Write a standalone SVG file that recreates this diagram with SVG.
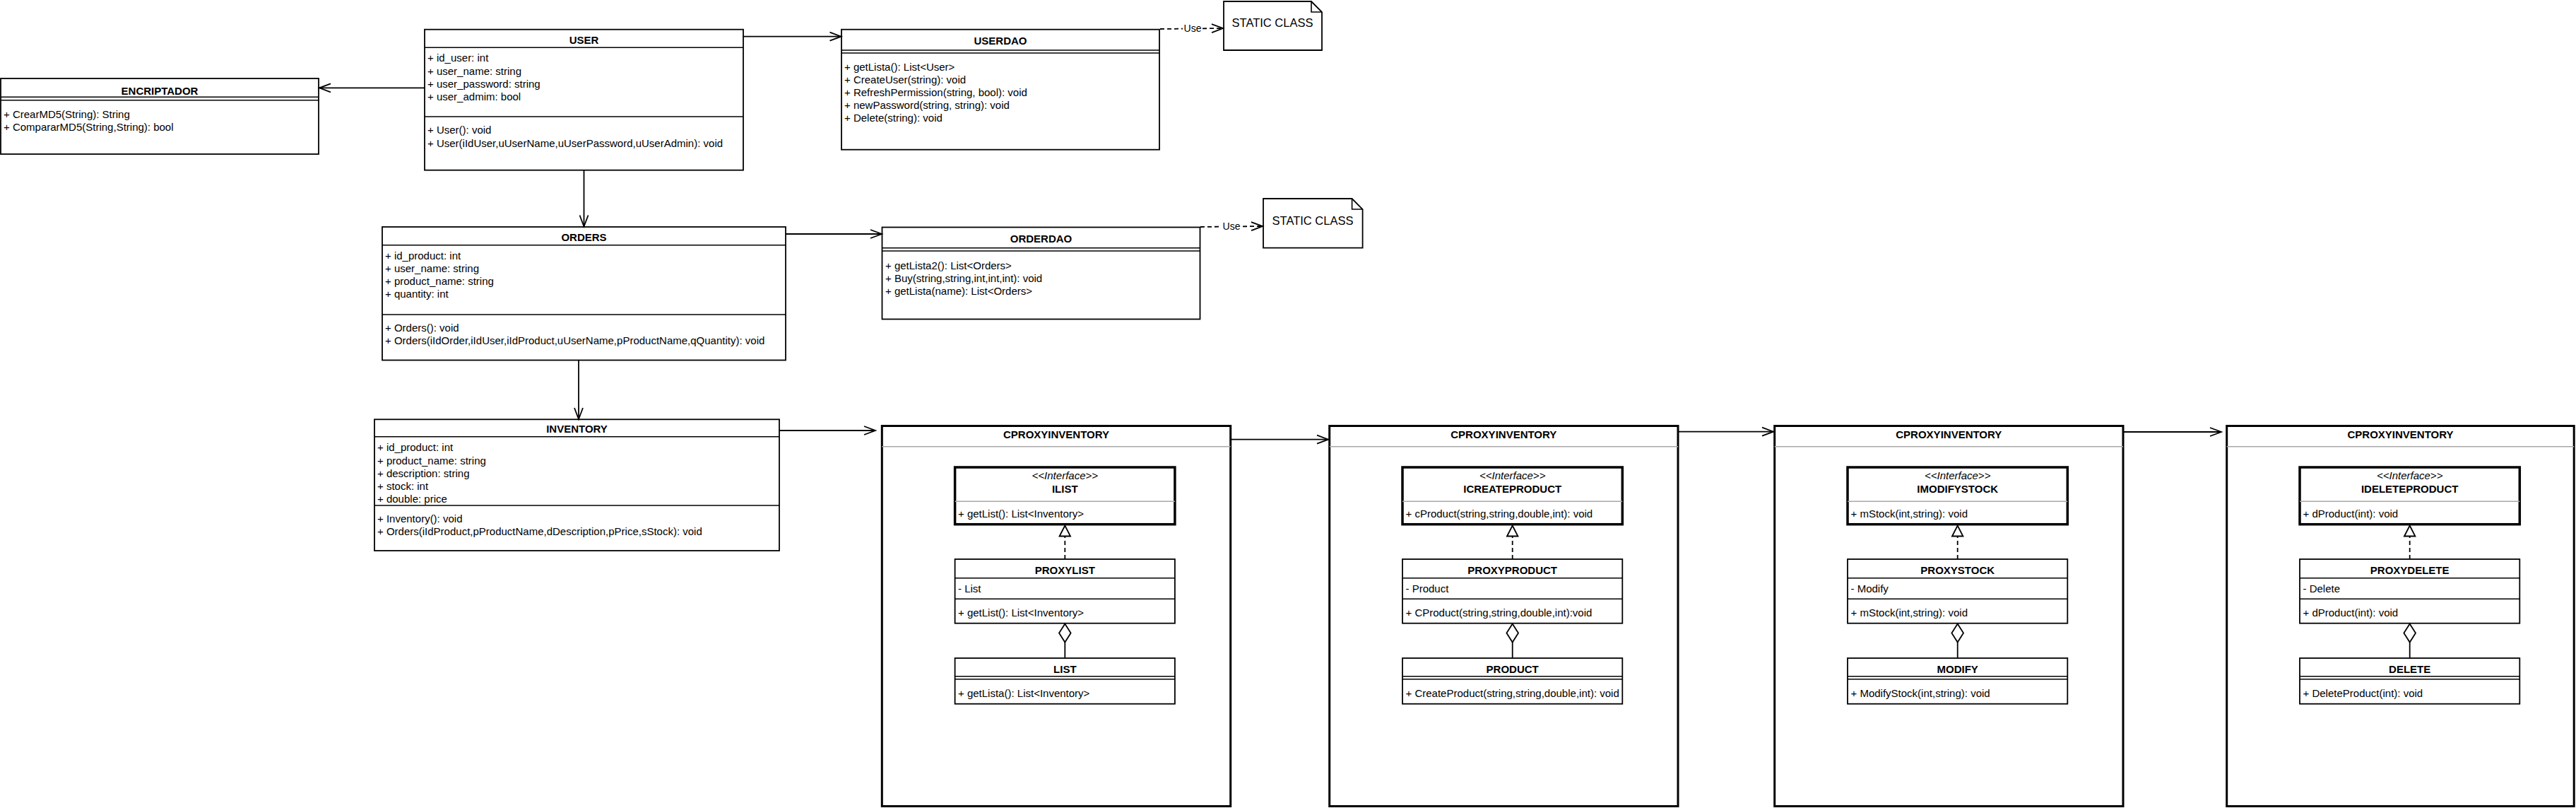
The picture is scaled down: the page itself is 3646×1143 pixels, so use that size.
<svg xmlns="http://www.w3.org/2000/svg" width="3646" height="1143" viewBox="0 0 3646 1143">
<style>
.bg{fill:#fff}
.box{fill:#fff;stroke:#000;stroke-width:1.8}
.ibox{fill:#fff;stroke:#000;stroke-width:3.5}
.cont{fill:#fff;stroke:#000;stroke-width:3}
.ln{stroke:#000;stroke-width:1.6;fill:none}
.gl{stroke:#a8a8a8;stroke-width:1.5;fill:none}
.t{font-family:"Liberation Sans",Arial,Helvetica,sans-serif;font-size:15px;fill:#000}
.b{font-weight:bold;text-anchor:middle}
.i{font-style:italic;text-anchor:middle}
.n{font-size:16.5px;text-anchor:middle}
.lbl{font-size:14px;text-anchor:middle}
.c{stroke:#000;stroke-width:1.8;fill:none}
.d{stroke-dasharray:6 4}
.lb{fill:#fff}
</style>
<defs>
<marker id="open" markerUnits="userSpaceOnUse" markerWidth="20" markerHeight="16" refX="16" refY="6.5" orient="auto" overflow="visible">
<path d="M0,0.5 L16,6.5 L0,12.5" fill="none" stroke="#000" stroke-width="1.8"/>
</marker>
<marker id="tri" markerUnits="userSpaceOnUse" markerWidth="18" markerHeight="18" refX="15" refY="7.7" orient="auto" overflow="visible">
<path d="M0,0 L15,7.7 L0,15.4 Z" fill="#fff" stroke="#000" stroke-width="1.8"/>
</marker>
<marker id="dia" markerUnits="userSpaceOnUse" markerWidth="28" markerHeight="18" refX="0" refY="8.3" orient="auto" overflow="visible">
<path d="M0,8.3 L13,0 L26,8.3 L13,16.6 Z" fill="#fff" stroke="#000" stroke-width="1.8"/>
</marker>
</defs>
<rect class="bg" x="0" y="0" width="3646" height="1143"/>

<g id="encriptador">
<rect class="box" x="1" y="111" width="450" height="107"/>
<line class="ln" x1="1" y1="137.3" x2="451" y2="137.3"/>
<line class="ln" x1="1" y1="141.7" x2="451" y2="141.7"/>
<text class="t b" x="226" y="133.5">ENCRIPTADOR</text>
<text class="t" x="5" y="166.7">+ CrearMD5(String): String</text>
<text class="t" x="5" y="184.5">+ CompararMD5(String,String): bool</text>
</g>

<g id="user">
<rect class="box" x="601" y="41.7" width="451" height="199"/>
<line class="ln" x1="601" y1="67.3" x2="1052" y2="67.3"/>
<line class="ln" x1="601" y1="165" x2="1052" y2="165"/>
<text class="t b" x="826.5" y="62">USER</text>
<text class="t" x="605" y="87.3">+ id_user: int</text>
<text class="t" x="605" y="105.7">+ user_name: string</text>
<text class="t" x="605" y="124">+ user_password: string</text>
<text class="t" x="605" y="142.3">+ user_admim: bool</text>
<text class="t" x="605" y="189.3">+ User(): void</text>
<text class="t" x="605" y="207.7">+ User(iIdUser,uUserName,uUserPassword,uUserAdmin): void</text>
</g>

<g id="userdao">
<rect class="box" x="1191" y="41.7" width="450" height="170"/>
<line class="ln" x1="1191" y1="71" x2="1641" y2="71"/>
<line class="ln" x1="1191" y1="75" x2="1641" y2="75"/>
<text class="t b" x="1416" y="62.5">USERDAO</text>
<text class="t" x="1195" y="99.5">+ getLista(): List&lt;User&gt;</text>
<text class="t" x="1195" y="117.5">+ CreateUser(string): void</text>
<text class="t" x="1195" y="135.5">+ RefreshPermission(string, bool): void</text>
<text class="t" x="1195" y="153.5">+ newPassword(string, string): void</text>
<text class="t" x="1195" y="171.5">+ Delete(string): void</text>
</g>

<g id="static1">
<path class="box" d="M1732,2 H1856 L1871,17 V71 H1732 Z"/>
<path class="ln" d="M1856,2 V17 H1871"/>
<text class="t n" x="1801" y="37.5">STATIC CLASS</text>
</g>

<g id="orders">
<rect class="box" x="541" y="321" width="571" height="188.5"/>
<line class="ln" x1="541" y1="346.7" x2="1112" y2="346.7"/>
<line class="ln" x1="541" y1="445" x2="1112" y2="445"/>
<text class="t b" x="826.5" y="340.5">ORDERS</text>
<text class="t" x="545" y="366.5">+ id_product: int</text>
<text class="t" x="545" y="384.8">+ user_name: string</text>
<text class="t" x="545" y="403.1">+ product_name: string</text>
<text class="t" x="545" y="421.4">+ quantity: int</text>
<text class="t" x="545" y="468.8">+ Orders(): void</text>
<text class="t" x="545" y="487.2">+ Orders(iIdOrder,iIdUser,iIdProduct,uUserName,pProductName,qQuantity): void</text>
</g>

<g id="orderdao">
<rect class="box" x="1248.5" y="321.5" width="450" height="130"/>
<line class="ln" x1="1248.5" y1="350.7" x2="1698.5" y2="350.7"/>
<line class="ln" x1="1248.5" y1="355" x2="1698.5" y2="355"/>
<text class="t b" x="1473.5" y="342.5">ORDERDAO</text>
<text class="t" x="1253" y="380.8">+ getLista2(): List&lt;Orders&gt;</text>
<text class="t" x="1253" y="398.8">+ Buy(string,string,int,int,int): void</text>
<text class="t" x="1253" y="416.8">+ getLista(name): List&lt;Orders&gt;</text>
</g>

<g id="static2">
<path class="box" d="M1788,281 H1913.6 L1928.6,296 V350.7 H1788 Z"/>
<path class="ln" d="M1913.6,281 V296 H1928.6"/>
<text class="t n" x="1858" y="317.5">STATIC CLASS</text>
</g>

<g id="inventory">
<rect class="box" x="530" y="593.3" width="573" height="185.7"/>
<line class="ln" x1="530" y1="617.7" x2="1103" y2="617.7"/>
<line class="ln" x1="530" y1="715" x2="1103" y2="715"/>
<text class="t b" x="816.5" y="612">INVENTORY</text>
<text class="t" x="534" y="638.3">+ id_product: int</text>
<text class="t" x="534" y="656.5">+ product_name: string</text>
<text class="t" x="534" y="674.5">+ description: string</text>
<text class="t" x="534" y="692.5">+ stock: int</text>
<text class="t" x="534" y="710.5">+ double: price</text>
<text class="t" x="534" y="739">+ Inventory(): void</text>
<text class="t" x="534" y="757.3">+ Orders(iIdProduct,pProductName,dDescription,pPrice,sStock): void</text>
</g>

<!-- Proxy container 1 -->
<g id="cproxy1">
<rect class="cont" x="1248.3" y="602.5" width="493.4" height="538"/>
<line class="gl" x1="1248.3" y1="631.7" x2="1741.7" y2="631.7"/>
<text class="t b" x="1495" y="619.5">CPROXYINVENTORY</text>
</g>
<g id="ilist">
<rect class="ibox" x="1351.6" y="661" width="311.3" height="80.7"/>
<line class="gl" x1="1351.6" y1="709.3" x2="1662.9" y2="709.3"/>
<text class="t i" x="1507.3" y="678">&lt;&lt;Interface&gt;&gt;</text>
<text class="t b" x="1507.3" y="696.5">ILIST</text>
<text class="t" x="1356" y="731.7">+ getList(): List&lt;Inventory&gt;</text>
</g>
<g id="proxylist">
<rect class="box" x="1351.6" y="791" width="311.3" height="90.7"/>
<line class="ln" x1="1351.6" y1="817.7" x2="1662.9" y2="817.7"/>
<line class="ln" x1="1351.6" y1="847.3" x2="1662.9" y2="847.3"/>
<text class="t b" x="1507.3" y="812">PROXYLIST</text>
<text class="t" x="1356" y="837.7">- List</text>
<text class="t" x="1356" y="871.7">+ getList(): List&lt;Inventory&gt;</text>
</g>
<g id="list">
<rect class="box" x="1351.6" y="931" width="311.3" height="64.7"/>
<line class="ln" x1="1351.6" y1="956.7" x2="1662.9" y2="956.7"/>
<line class="ln" x1="1351.6" y1="960.7" x2="1662.9" y2="960.7"/>
<text class="t b" x="1507.3" y="952">LIST</text>
<text class="t" x="1356" y="985.7">+ getLista(): List&lt;Inventory&gt;</text>
</g>

<!-- Proxy container 2 -->
<g id="cproxy2">
<rect class="cont" x="1881.7" y="602.5" width="493.3" height="538"/>
<line class="gl" x1="1881.7" y1="631.7" x2="2375" y2="631.7"/>
<text class="t b" x="2128.3" y="619.5">CPROXYINVENTORY</text>
</g>
<g id="icreateproduct">
<rect class="ibox" x="1985" y="661" width="311.3" height="80.7"/>
<line class="gl" x1="1985" y1="709.3" x2="2296.3" y2="709.3"/>
<text class="t i" x="2140.7" y="678">&lt;&lt;Interface&gt;&gt;</text>
<text class="t b" x="2140.7" y="696.5">ICREATEPRODUCT</text>
<text class="t" x="1989.5" y="731.7">+ cProduct(string,string,double,int): void</text>
</g>
<g id="proxyproduct">
<rect class="box" x="1985" y="791" width="311.3" height="90.7"/>
<line class="ln" x1="1985" y1="817.7" x2="2296.3" y2="817.7"/>
<line class="ln" x1="1985" y1="847.3" x2="2296.3" y2="847.3"/>
<text class="t b" x="2140.7" y="812">PROXYPRODUCT</text>
<text class="t" x="1989.5" y="837.7">- Product</text>
<text class="t" x="1989.5" y="871.7">+ CProduct(string,string,double,int):void</text>
</g>
<g id="product">
<rect class="box" x="1985" y="931" width="311.3" height="64.7"/>
<line class="ln" x1="1985" y1="956.7" x2="2296.3" y2="956.7"/>
<line class="ln" x1="1985" y1="960.7" x2="2296.3" y2="960.7"/>
<text class="t b" x="2140.7" y="952">PRODUCT</text>
<text class="t" x="1989.5" y="985.7">+ CreateProduct(string,string,double,int): void</text>
</g>

<!-- Proxy container 3 -->
<g id="cproxy3">
<rect class="cont" x="2511.7" y="602.5" width="493.3" height="538"/>
<line class="gl" x1="2511.7" y1="631.7" x2="3005" y2="631.7"/>
<text class="t b" x="2758.3" y="619.5">CPROXYINVENTORY</text>
</g>
<g id="imodifystock">
<rect class="ibox" x="2615" y="661" width="311.3" height="80.7"/>
<line class="gl" x1="2615" y1="709.3" x2="2926.3" y2="709.3"/>
<text class="t i" x="2770.7" y="678">&lt;&lt;Interface&gt;&gt;</text>
<text class="t b" x="2770.7" y="696.5">IMODIFYSTOCK</text>
<text class="t" x="2619.5" y="731.7">+ mStock(int,string): void</text>
</g>
<g id="proxystock">
<rect class="box" x="2615" y="791" width="311.3" height="90.7"/>
<line class="ln" x1="2615" y1="817.7" x2="2926.3" y2="817.7"/>
<line class="ln" x1="2615" y1="847.3" x2="2926.3" y2="847.3"/>
<text class="t b" x="2770.7" y="812">PROXYSTOCK</text>
<text class="t" x="2619.5" y="837.7" fill="#333">- Modify</text>
<text class="t" x="2619.5" y="871.7">+ mStock(int,string): void</text>
</g>
<g id="modify">
<rect class="box" x="2615" y="931" width="311.3" height="64.7"/>
<line class="ln" x1="2615" y1="956.7" x2="2926.3" y2="956.7"/>
<line class="ln" x1="2615" y1="960.7" x2="2926.3" y2="960.7"/>
<text class="t b" x="2770.7" y="952">MODIFY</text>
<text class="t" x="2619.5" y="985.7">+ ModifyStock(int,string): void</text>
</g>

<!-- Proxy container 4 -->
<g id="cproxy4">
<rect class="cont" x="3151.7" y="602.5" width="491.5" height="538"/>
<line class="gl" x1="3151.7" y1="631.7" x2="3643.2" y2="631.7"/>
<text class="t b" x="3397.5" y="619.5">CPROXYINVENTORY</text>
</g>
<g id="ideleteproduct">
<rect class="ibox" x="3255" y="661" width="311.3" height="80.7"/>
<line class="gl" x1="3255" y1="709.3" x2="3566.3" y2="709.3"/>
<text class="t i" x="3410.7" y="678">&lt;&lt;Interface&gt;&gt;</text>
<text class="t b" x="3410.7" y="696.5">IDELETEPRODUCT</text>
<text class="t" x="3259.5" y="731.7">+ dProduct(int): void</text>
</g>
<g id="proxydelete">
<rect class="box" x="3255" y="791" width="311.3" height="90.7"/>
<line class="ln" x1="3255" y1="817.7" x2="3566.3" y2="817.7"/>
<line class="ln" x1="3255" y1="847.3" x2="3566.3" y2="847.3"/>
<text class="t b" x="3410.7" y="812">PROXYDELETE</text>
<text class="t" x="3259.5" y="837.7">- Delete</text>
<text class="t" x="3259.5" y="871.7">+ dProduct(int): void</text>
</g>
<g id="delete">
<rect class="box" x="3255" y="931" width="311.3" height="64.7"/>
<line class="ln" x1="3255" y1="956.7" x2="3566.3" y2="956.7"/>
<line class="ln" x1="3255" y1="960.7" x2="3566.3" y2="960.7"/>
<text class="t b" x="3410.7" y="952">DELETE</text>
<text class="t" x="3259.5" y="985.7">+ DeleteProduct(int): void</text>
</g>

<g id="connectors">
<line class="c" x1="601" y1="124.3" x2="452" y2="124.3" marker-end="url(#open)"/>
<line class="c" x1="1052" y1="51.7" x2="1190.5" y2="51.7" marker-end="url(#open)"/>
<line class="c d" x1="1642" y1="41" x2="1731" y2="40" marker-end="url(#open)"/>
<rect class="lb" x="1674" y="31" width="28" height="17"/>
<text class="t lbl" x="1688" y="45">Use</text>
<line class="c" x1="826.5" y1="241" x2="826.5" y2="320.5" marker-end="url(#open)"/>
<line class="c" x1="1112" y1="331" x2="1248" y2="331" marker-end="url(#open)"/>
<line class="c d" x1="1699" y1="321" x2="1787" y2="320" marker-end="url(#open)"/>
<rect class="lb" x="1729" y="311" width="28" height="17"/>
<text class="t lbl" x="1743" y="324.5">Use</text>
<line class="c" x1="819" y1="509.5" x2="819" y2="593" marker-end="url(#open)"/>
<line class="c" x1="1103" y1="609" x2="1239" y2="609" marker-end="url(#open)"/>
<line class="c" x1="1741.7" y1="621.7" x2="1880" y2="621.7" marker-end="url(#open)"/>
<line class="c" x1="2375" y1="610.7" x2="2510" y2="610.7" marker-end="url(#open)"/>
<line class="c" x1="3005" y1="611" x2="3144" y2="611" marker-end="url(#open)"/>
<line class="c d" x1="1507.3" y1="791" x2="1507.3" y2="743.5" marker-end="url(#tri)"/>
<line class="c" x1="1507.3" y1="882.5" x2="1507.3" y2="931" marker-start="url(#dia)"/>
<line class="c d" x1="2140.7" y1="791" x2="2140.7" y2="743.5" marker-end="url(#tri)"/>
<line class="c" x1="2140.7" y1="882.5" x2="2140.7" y2="931" marker-start="url(#dia)"/>
<line class="c d" x1="2770.7" y1="791" x2="2770.7" y2="743.5" marker-end="url(#tri)"/>
<line class="c" x1="2770.7" y1="882.5" x2="2770.7" y2="931" marker-start="url(#dia)"/>
<line class="c d" x1="3410.7" y1="791" x2="3410.7" y2="743.5" marker-end="url(#tri)"/>
<line class="c" x1="3410.7" y1="882.5" x2="3410.7" y2="931" marker-start="url(#dia)"/>
</g>
</svg>
